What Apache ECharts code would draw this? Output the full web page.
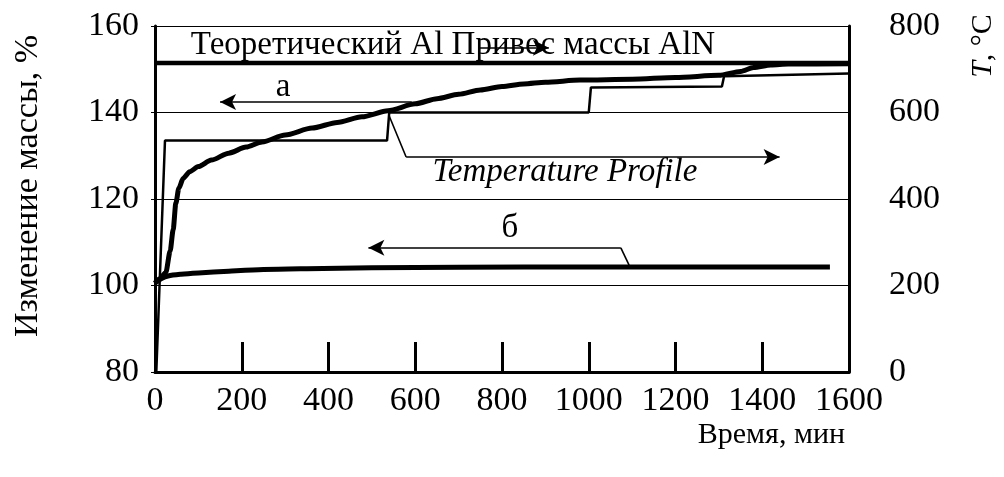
<!DOCTYPE html>
<html><head><meta charset="utf-8">
<script src="https://cdn.jsdelivr.net/npm/echarts@6.0.0/dist/echarts.min.js"></script>
<style>html,body{margin:0;padding:0;background:#fff}#c{width:1004px;height:477px}</style>
</head><body><div id="c"></div>
<script>
// ---- data ----
const xTicks = [0, 200, 400, 600, 800, 1000, 1200, 1400, 1600];
const massTicks = [80, 100, 120, 140, 160];
const tempTicks = [0, 200, 400, 600, 800];

// curve "а" (mass change, %)
const curveA_t = [0, 10, 25, 35, 42, 48, 55, 65, 80, 100, 130, 170, 210, 247, 300, 362, 420, 477, 537, 600, 650, 700, 750, 800, 850, 900, 980, 1100, 1200, 1300, 1350, 1380, 1420, 1460, 1600];
const curveA_m = [100.5, 101.5, 103, 108, 113, 119, 122.5, 124.8, 126.3, 127.5, 129.0, 130.6, 132.0, 133.2, 134.8, 136.4, 137.7, 139.0, 140.4, 142.0, 143.2, 144.2, 145.2, 146.0, 146.6, 147.0, 147.5, 147.7, 148.1, 148.6, 149.5, 150.4, 151.0, 151.2, 151.3];

// curve "б"
const curveB_t = [0, 15, 30, 60, 100, 170, 250, 350, 500, 700, 1000, 1300, 1556];
const curveB_m = [100.6, 101.6, 102.2, 102.6, 102.9, 103.3, 103.7, 103.9, 104.1, 104.2, 104.3, 104.3, 104.3];

// temperature profile, °C
const temp_t = [3, 23, 535, 540, 1000, 1005, 1307, 1312, 1600];
const temp_T = [0, 535, 535, 600, 600, 658, 660, 684, 690];

// theoretical AlN mass gain
const theoretical = 151.45;
const theoreticalLabel = 'Теоретический Al Привес массы AlN';

// annotation anchor points (data coords: time, mass)
const arrowA = [[592, 142.4], [150, 142.4]];
const arrowTP_lead = [[540, 139.2], [579, 129.7]];
const arrowTP = [[579, 129.7], [1440, 129.7]];
const arrowB_lead = [[1093, 104.7], [1074, 108.7]];
const arrowB = [[1074, 108.7], [492, 108.7]];
const strikeArrow = [[745, 155.0], [908, 155.0]];
const labels = [
  {name: 'а', t: 295, m: 145.8, italic: false},
  {name: 'Temperature Profile', t: 945, m: 126.1, italic: true},
  {name: 'б', t: 818, m: 113.3, italic: false},
  {name: theoreticalLabel, t: 687, m: 155.6, italic: false}
];

const FONT = '"Liberation Serif", "Times New Roman", serif';
const zip = (a, b) => a.map((v, i) => [v, b[i]]);

const chart = echarts.init(document.getElementById('c'), null, {renderer: 'canvas'});
const arrowLine = (pts) => ({
  silent: true, symbol: ['none', 'arrow'], symbolSize: [12, 16],
  itemStyle: {color: '#000'},
  lineStyle: {color: '#000', width: 1.6, type: 'solid'}, label: {show: false},
  data: [[{coord: pts[0]}, {coord: pts[1]}]], animation: false
});

const option = {
  animation: false,
  backgroundColor: '#fff',
  grid: {left: 155, right: 155, top: 26, bottom: 105},
  xAxis: {
    type: 'value', min: 0, max: 1600, interval: 200,
    axisLine: {lineStyle: {color: '#000', width: 3}},
    axisTick: {inside: true, length: 30, lineStyle: {color: '#000', width: 3}},
    axisLabel: {color: '#000', fontFamily: FONT, fontSize: 34, margin: 12, formatter: v => String(v)},
    splitLine: {show: false}
  },
  yAxis: [{
    type: 'value', min: 80, max: 160, interval: 20,
    axisLine: {show: true, lineStyle: {color: '#000', width: 3}},
    axisTick: {show: true, length: 4, lineStyle: {color: '#000', width: 1}},
    axisLabel: {color: '#000', fontFamily: FONT, fontSize: 34, margin: 16, formatter: v => String(v)},
    splitLine: {show: true, lineStyle: {color: '#000', width: 1.2}}
  }, {
    type: 'value', min: 0, max: 800, interval: 200, position: 'right',
    axisLine: {show: true, lineStyle: {color: '#000', width: 3}},
    axisTick: {show: false},
    axisLabel: {color: '#000', fontFamily: FONT, fontSize: 34, margin: 40, formatter: v => String(v)},
    splitLine: {show: false}
  }],
  series: [
    {type: 'line', yAxisIndex: 1, data: zip(temp_t, temp_T), showSymbol: false,
     lineStyle: {color: '#000', width: 2.5}, z: 3},
    {type: 'line', data: zip(curveA_t, curveA_m), showSymbol: false, smooth: 0.25, smoothMonotone: 'x',
     lineStyle: {color: '#000', width: 5}, z: 4},
    {type: 'line', data: zip(curveB_t, curveB_m), showSymbol: false, smooth: 0.3,
     lineStyle: {color: '#000', width: 5}, z: 4},
    {type: 'line', data: [[0, theoretical], [1600, theoretical]], showSymbol: false,
     lineStyle: {color: '#000', width: 4.5}, z: 4},
    {type: 'line', data: arrowA, showSymbol: false, lineStyle: {width: 0, opacity: 0}, markLine: arrowLine(arrowA)},
    {type: 'line', data: arrowTP_lead, showSymbol: false, lineStyle: {color: '#000', width: 1.6}},
    {type: 'line', data: arrowTP, showSymbol: false, lineStyle: {width: 0, opacity: 0}, markLine: arrowLine(arrowTP)},
    {type: 'line', data: arrowB_lead, showSymbol: false, lineStyle: {color: '#000', width: 1.6}},
    {type: 'line', data: arrowB, showSymbol: false, lineStyle: {width: 0, opacity: 0}, markLine: arrowLine(arrowB)},
    {type: 'line', data: strikeArrow, showSymbol: false, lineStyle: {width: 0, opacity: 0}, markLine: arrowLine(strikeArrow), z: 6},
    {type: 'scatter', symbolSize: 0, z: 5, itemStyle: {opacity: 1, color: '#000'},
     data: labels.map(l => ({name: l.name, value: [l.t, l.m],
       label: {show: true, position: 'inside', formatter: '{b}', color: '#000', opacity: 1,
               textBorderWidth: 0,
               fontFamily: FONT, fontSize: 33,
               fontStyle: l.italic ? 'italic' : 'normal'}}))}
  ],
  graphic: [
    {type: 'text', x: 28, y: 186, rotation: Math.PI / 2,
     style: {text: 'Изменение массы, %', font: '34px ' + FONT, fill: '#000', align: 'center', verticalAlign: 'middle'}},
    {type: 'text', x: 983, y: 46, rotation: Math.PI / 2,
     style: {text: '{i|T}, °C', fill: '#000', align: 'center', verticalAlign: 'middle',
       rich: {i: {fontStyle: 'italic', fontFamily: FONT, fontSize: 30}}, font: '30px ' + FONT}},
    {type: 'text', x: 845, y: 435,
     style: {text: 'Время, мин', font: '30px ' + FONT, fill: '#000', align: 'right', verticalAlign: 'middle'}}
  ]
};
chart.setOption(option);
</script></body></html>
